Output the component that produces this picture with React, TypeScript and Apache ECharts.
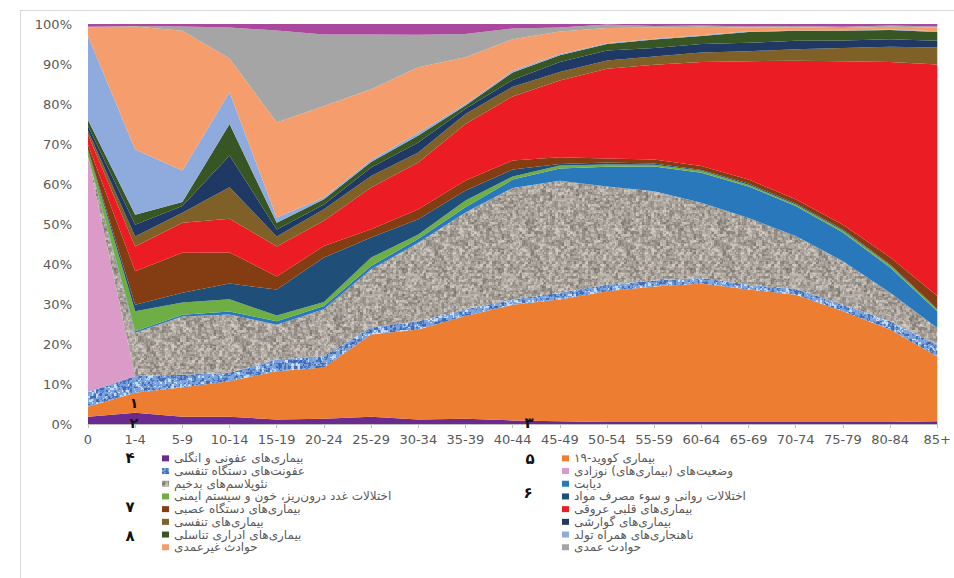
import React, { useEffect, useRef } from "react";
import * as echarts from "echarts";

const ageGroups = ["0", "1-4", "5-9", "10-14", "15-19", "20-24", "25-29", "30-34", "35-39", "40-44", "45-49", "50-54", "55-59", "60-64", "65-69", "70-74", "75-79", "80-84", "85+"];

const infectious = [1.8, 2.8, 1.8, 1.8, 1.1, 1.3, 1.8, 1.1, 1.3, 0.9, 0.7, 0.5, 0.5, 0.5, 0.5, 0.5, 0.5, 0.5, 0.7];
const covid = [2.5, 5.0, 7.4, 8.9, 12.1, 12.8, 20.6, 22.5, 25.7, 28.9, 30.4, 32.7, 33.9, 34.6, 33.1, 31.8, 27.7, 23.1, 16.2];
const respInfections = [3.7, 4.2, 3.1, 2.1, 2.9, 2.9, 1.7, 2.1, 1.7, 1.3, 1.7, 1.6, 1.5, 1.4, 1.2, 1.5, 1.6, 2.1, 2.9];
const neonatal = [58.5, 0, 0, 0, 0, 0, 0, 0, 0, 0, 0, 0, 0, 0, 0, 0, 0, 0, 0];
const neoplasms = [0.3, 10.8, 14.6, 14.6, 8.7, 11.7, 14.6, 19.6, 24.2, 27.9, 28.0, 24.6, 22.3, 18.8, 16.7, 13.2, 10.9, 7.1, 4.2];
const diabetes = [0.1, 0.4, 0.4, 0.7, 0.9, 0.8, 0.8, 1.0, 1.3, 2.1, 3.1, 4.9, 6.2, 7.5, 7.9, 7.5, 7.2, 6.3, 4.2];
const endocrine = [1.5, 5.0, 3.1, 3.1, 1.4, 1.0, 2.1, 1.1, 1.7, 0.8, 0.7, 0.6, 0.4, 0.5, 0.4, 0.4, 0.5, 0.6, 0.4];
const mental = [0.2, 1.6, 2.4, 3.9, 6.5, 11.1, 5.0, 3.8, 2.5, 1.7, 0.4, 0.5, 0.3, 0.2, 0.3, 0.2, 0.2, 0.2, 0.2];
const neurological = [1.2, 8.4, 10.0, 7.8, 3.3, 2.9, 2.1, 2.5, 2.5, 2.3, 1.7, 1.0, 1.0, 1.0, 1.0, 1.1, 1.2, 1.8, 3.2];
const cardiovascular = [2.5, 6.2, 7.5, 8.4, 7.5, 6.3, 10.4, 11.7, 14.1, 16.0, 19.2, 22.4, 23.7, 26.0, 29.6, 34.6, 40.9, 48.8, 57.9];
const respiratory = [1.0, 2.5, 2.5, 7.9, 2.5, 2.9, 2.9, 2.5, 2.5, 2.4, 2.1, 2.1, 2.1, 2.4, 2.5, 2.9, 3.3, 3.8, 4.2];
const digestive = [1.2, 2.9, 1.7, 7.9, 1.7, 1.2, 2.1, 2.5, 1.3, 1.7, 2.5, 2.5, 2.1, 2.1, 2.1, 2.1, 1.9, 1.9, 1.7];
const genitourinary = [1.5, 2.5, 1.0, 7.9, 1.7, 1.3, 1.4, 1.7, 0.8, 1.9, 1.7, 1.6, 2.1, 2.0, 2.7, 2.5, 2.4, 2.3, 2.2];
const congenital = [21.0, 16.3, 7.9, 8.0, 1.3, 0.4, 0.5, 0.7, 0.4, 0.4, 0.3, 0.2, 0.2, 0.2, 0.2, 0.1, 0.1, 0.1, 0.2];
const unintentional = [2.2, 30.8, 34.9, 8.4, 23.8, 22.9, 17.7, 16.4, 11.7, 7.9, 5.6, 3.8, 2.8, 2.1, 0.9, 0.8, 0.6, 0.7, 0.9];
const intentional = [0.1, 0.1, 1.1, 7.7, 23.0, 17.9, 13.7, 8.1, 5.8, 2.7, 1.0, 0.9, 0.4, 0.3, 0.3, 0.3, 0.3, 0.3, 0.3];
const otherCauses = [0.7, 0.6, 0.8, 1.0, 1.8, 2.7, 2.7, 2.9, 2.7, 1.3, 1.0, 0.4, 0.6, 0.7, 0.8, 0.8, 0.8, 0.8, 0.8];

const seriesNames = [
  "بیماری‌های عفونی و انگلی",
  "بیماری کووید-۱۹",
  "عفونت‌های دستگاه تنفسی",
  "وضعیت‌های (بیماری‌های) نوزادی",
  "نئوپلاسم‌های بدخیم",
  "دیابت",
  "اختلالات غدد درون‌ریز، خون و سیستم ایمنی",
  "اختلالات روانی و سوء مصرف مواد",
  "بیماری‌های دستگاه عصبی",
  "بیماری‌های قلبی عروقی",
  "بیماری‌های تنفسی",
  "بیماری‌های گوارشی",
  "بیماری‌های ادراری تناسلی",
  "ناهنجاری‌های همراه تولد",
  "حوادث غیرعمدی",
  "حوادث عمدی",
  "سایر",
];

const seriesData = [infectious, covid, respInfections, neonatal, neoplasms, diabetes, endocrine, mental, neurological, cardiovascular, respiratory, digestive, genitourinary, congenital, unintentional, intentional, otherCauses];

const seriesColors = ["#6A2A90", "#ED7D31", "TEX_BLUE", "#DA9BC9", "TEX_GRAY", "#2A78BC", "#6FAE45", "#1F4E79", "#843C12", "#EC1C24", "#7F6027", "#1F3864", "#375623", "#8FAADC", "#F59D6C", "#A5A5A5", "#AA489E"];

const leftLegend = [0, 2, 4, 6, 8, 10, 12, 14];
const rightLegend = [1, 3, 5, 7, 9, 11, 13, 15];

function hash(x: number, y: number, s: number) {
  let h = (x * 374761393 + y * 668265263 + s * 982451653) | 0;
  h = Math.imul(h ^ (h >>> 13), 1274126177);
  h ^= h >>> 16;
  return (h >>> 0) / 4294967295;
}

function makeTexture(kind: "gray" | "blue") {
  const size = 96;
  const c = document.createElement("canvas");
  c.width = size;
  c.height = size;
  const ctx = c.getContext("2d")!;
  const img = ctx.createImageData(size, size);
  const seed = kind === "gray" ? 7 : 13;
  for (let y = 0; y < size; y++) {
    for (let x = 0; x < size; x++) {
      const a = hash(Math.floor(x / 3), Math.floor(y / 3), seed);
      const m = hash(x >> 1, y >> 1, seed + 1);
      const b = hash(x, y, 3);
      const v = a * 0.45 + m * 0.4 + b * 0.15;
      let r, g, bl;
      if (kind === "gray") {
        const base = 105 + v * 105;
        r = base + 12;
        g = base + 5;
        bl = base - 3;
      } else {
        if (v < 0.38) { r = 55 + v * 60; g = 90 + v * 80; bl = 165 + v * 60; }
        else if (v < 0.7) { r = 90 + v * 60; g = 130 + v * 60; bl = 205 + v * 30; }
        else { r = 150 + v * 60; g = 180 + v * 50; bl = 225 + v * 25; }
      }
      const i = (y * size + x) * 4;
      img.data[i] = Math.max(0, Math.min(255, r));
      img.data[i + 1] = Math.max(0, Math.min(255, g));
      img.data[i + 2] = Math.max(0, Math.min(255, bl));
      img.data[i + 3] = 255;
    }
  }
  ctx.putImageData(img, 0, 0);
  return { image: c, repeat: "repeat", imageWidth: size, imageHeight: size } as any;
}

export default function App() {
  const ref = useRef<HTMLDivElement>(null);
  useEffect(() => {
    if (!ref.current) return;
    const chart = echarts.init(ref.current, null, { renderer: "svg" });
    const texGray = makeTexture("gray");
    const texBlue = makeTexture("blue");
    const colorOf = (i: number) => (seriesColors[i] === "TEX_GRAY" ? texGray : seriesColors[i] === "TEX_BLUE" ? texBlue : seriesColors[i]);

    const legendBase = {
      orient: "vertical",
      top: 452,
      icon: "rect",
      itemWidth: 7,
      itemHeight: 6,
      itemGap: 0,
      padding: 0,
      selectedMode: false,
      textStyle: { fontSize: 12, lineHeight: 12.7, color: "#595959", fontFamily: "DejaVu Sans" },
    };

    const annot = (t: string, x: number, y: number, size = 15) => ({
      type: "text",
      x,
      y,
      style: { text: t, fill: "#111", font: `bold ${size}px 'DejaVu Sans'`, textAlign: "center", textVerticalAlign: "middle" },
      z: 100,
    });

    chart.setOption({
      animation: false,
      backgroundColor: "#ffffff",
      grid: { left: 88, right: 14, top: 24, bottom: 154, containLabel: false },
      legend: [
        { ...legendBase, left: 162, data: leftLegend.map((i) => seriesNames[i]) },
        { ...legendBase, left: 562, data: rightLegend.map((i) => seriesNames[i]) },
      ],
      xAxis: {
        type: "category",
        data: ageGroups,
        boundaryGap: false,
        axisLine: { show: true, lineStyle: { color: "#bfbfbf", width: 1 } },
        axisTick: { show: true, length: 4, lineStyle: { color: "#bfbfbf" } },
        axisLabel: { color: "#595959", fontSize: 13, fontFamily: "DejaVu Sans", margin: 9, interval: 0 },
        splitLine: { show: false },
      },
      yAxis: {
        type: "value",
        min: 0,
        max: 100,
        interval: 10,
        axisLine: { show: false },
        axisTick: { show: false },
        splitLine: { show: false },
        axisLabel: { color: "#595959", fontSize: 13, fontFamily: "DejaVu Sans", margin: 16, formatter: "{value}%" },
      },
      series: seriesData.map((d, i) => ({
        name: seriesNames[i],
        type: "line",
        stack: "total",
        data: d,
        symbol: "none",
        showSymbol: false,
        lineStyle: { width: 0, opacity: 0 },
        itemStyle: { color: colorOf(i) },
        areaStyle: { color: colorOf(i), opacity: 1 },
        emphasis: { disabled: true },
      })),
      graphic: [
        { type: "line", shape: { x1: 20, y1: 10.5, x2: 954, y2: 10.5 }, style: { stroke: "#d9d9d9", lineWidth: 1 } },
        { type: "line", shape: { x1: 20.5, y1: 10, x2: 20.5, y2: 578 }, style: { stroke: "#d9d9d9", lineWidth: 1 } },
        annot("۱", 134, 403, 14),
        annot("۲", 134, 423, 14),
        annot("۳", 529, 423),
        annot("۴", 130, 458),
        annot("۵", 530, 459),
        annot("۶", 528, 493),
        annot("۷", 130, 507),
        annot("۸", 130, 536),
      ],
    });
    return () => chart.dispose();
  }, []);
  return <div ref={ref} style={{ position: "absolute", left: 0, top: 0, width: 954, height: 578 }} />;
}
